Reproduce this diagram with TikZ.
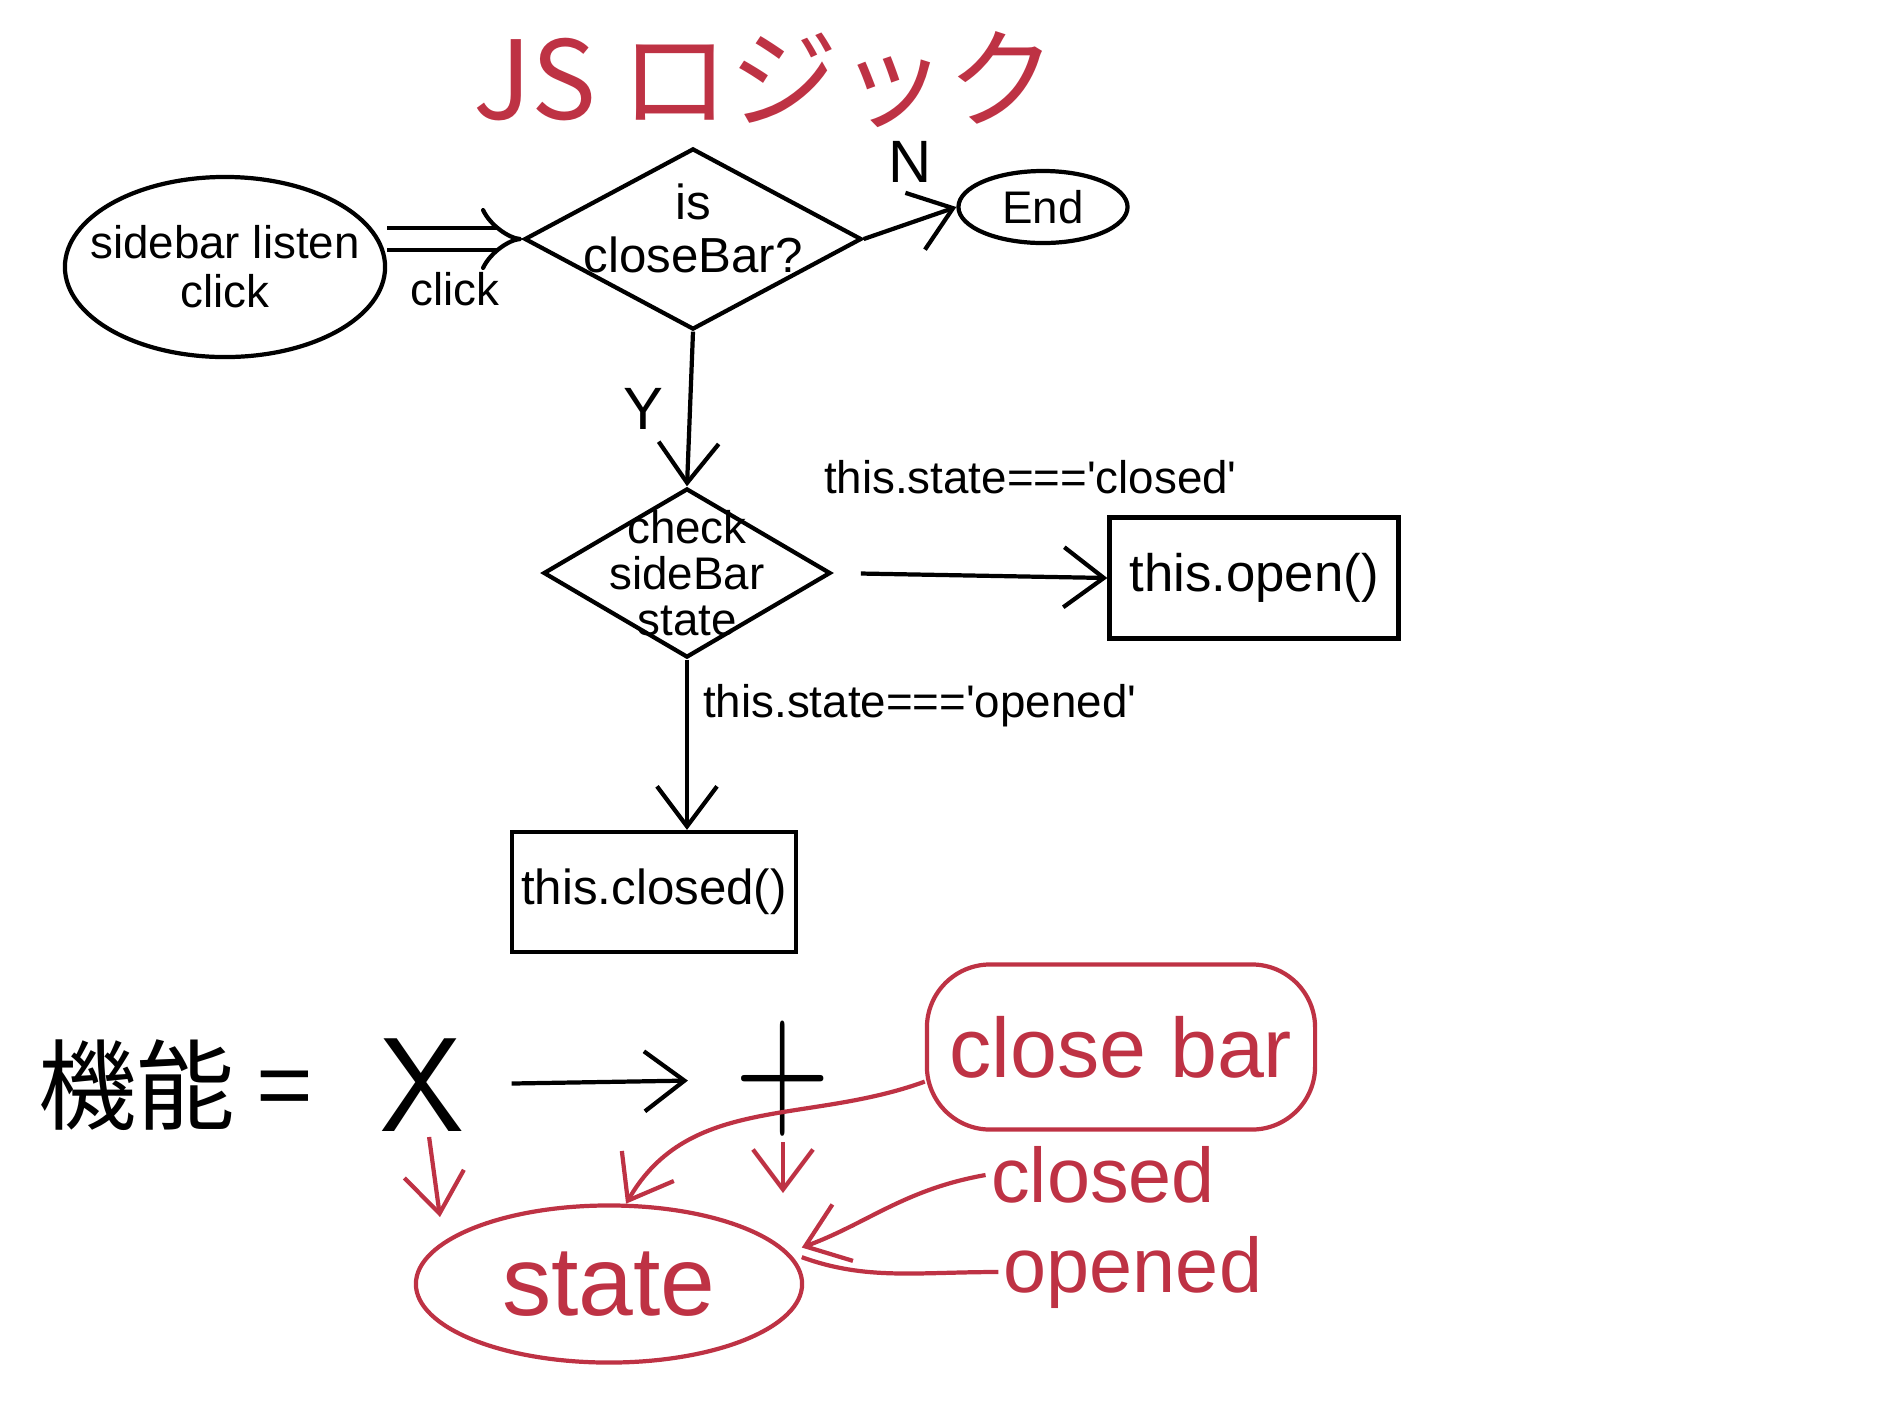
\documentclass[tikz,border=0pt]{standalone}
\usepackage{fontspec}
\setmainfont{Liberation Sans}
\newfontfamily\jpfont{Noto Sans CJK JP}
\usepackage{tikz}
\usetikzlibrary{arrows.meta}
\usetikzlibrary{positioning}
\usetikzlibrary{shapes.geometric}
\definecolor{ink}{RGB}{190,50,68}
\newcommand{\sq}{\textquotesingle}

\begin{document}
\begin{tikzpicture}[>={Straight Barb[length=4mm,width=6mm]},x=0.01cm,y=-0.01cm,line width=1.2pt,
  txt/.style={font=\fontsize{13}{14}\selectfont,align=center,inner sep=1pt},
  oval/.style={draw,ellipse,txt},
  choice/.style={draw,diamond,inner sep=0pt},
  codebox/.style={draw,rectangle,txt,font=\fontsize{15}{16}\selectfont},
  pen/.style={draw=ink,text=ink}]
	\useasboundingbox (0,0) rectangle (1890,1417);
	% flow part
	\node[txt,inner sep=0pt,text=ink,font=\jpfont\fontsize{31}{34}\selectfont] (title) at (765,80) {JS ロジック};
	\node[draw,ellipse,minimum width=3.2cm,minimum height=1.8cm,label={[txt]center:sidebar listen\\click}] (listen) at (225,267) {};
	\node[choice,minimum width=3.37cm,minimum height=1.81cm,label={[txt,font=\fontsize{14}{15}\selectfont,yshift=3pt]center:is\\closeBar?}] (isclose) at (693,239) {};
	\node[oval,minimum width=1.69cm,minimum height=0.72cm] (end) at (1043,207) {End};
	\node[choice,minimum width=2.87cm,minimum height=1.69cm,label={[txt,font=\fontsize{13}{13}\selectfont]center:check\\sideBar\\state}] (check) at (687,573) {};
	\node[codebox,minimum width=2.89cm,minimum height=1.21cm] (open) at (1254,578) {this.open()};
	\node[codebox,font=\fontsize{14}{15}\selectfont,minimum width=2.84cm,minimum height=1.2cm] (shut) at (654,892) {this.closed()};
	\draw[double,double distance=5pt,-{Implies}] (listen.east |- isclose.west) -- (isclose.west) node[midway,below=8pt,txt]{click};
	\draw[->] (isclose.east) -- (end.west) node[midway,above=10pt,txt,font=\fontsize{17}{18}\selectfont]{N};
	\draw[->] (isclose.south) -- (check.north) node[midway,left=6pt,txt,font=\fontsize{17}{18}\selectfont]{Y};
	\draw[->,shorten <=8pt] (check.east) -- (open.west) node[pos=0.72,above=22pt,txt]{this.state===\sq closed\sq};
	\draw[->] (check.south) -- (shut.north -| check.south) node[pos=0.27,right=3pt,txt]{this.state===\sq opened\sq};
	% red notes
	\node[txt,font=\jpfont\fontsize{28}{30}\selectfont] (func) at (175,1085) {機能 =};
	\node[txt,font=\sffamily\fontsize{38}{40}\selectfont] (xmark) at (422,1085) {X};
	\node[txt,font=\fontsize{24}{26}\selectfont] (plus) at (783,1079) {\scalebox{1.5}[2.1]{$+$}};
	\draw[->,shorten <=12pt,shorten >=12pt] (xmark) -- (plus);
	\node[pen,rectangle,rounded corners=18pt,txt,font=\fontsize{24}{26}\selectfont,minimum width=3.88cm,minimum height=1.65cm] (barbox) at (1121,1047) {close bar};
	\node[txt,text=ink,font=\fontsize{22}{24}\selectfont] (closedtxt) at (1103,1175) {closed};
	\node[txt,text=ink,font=\fontsize{22}{24}\selectfont] (openedtxt) at (1133,1272) {opened};
	\node[pen,ellipse,txt,font=\fontsize{28}{30}\selectfont,minimum width=3.86cm,minimum height=1.57cm] (stateell) at (609,1284) {state};
	\coordinate (xend) at (440,1217);
	\coordinate (plusend) at (783,1193);
	\draw[->,ink] (xmark) -- (xend);
	\draw[->,ink] (plus) -- (plusend);
	\draw[->,ink] (barbox.190) to[out=200,in=60] (stateell.78);
	\draw[->,ink,shorten >=4pt] (closedtxt.west) to[out=190,in=20] (stateell.10);
	\draw[ink,shorten >=4pt] (openedtxt.west) to[out=180,in=-20] (stateell.10);
\end{tikzpicture}
\end{document}
